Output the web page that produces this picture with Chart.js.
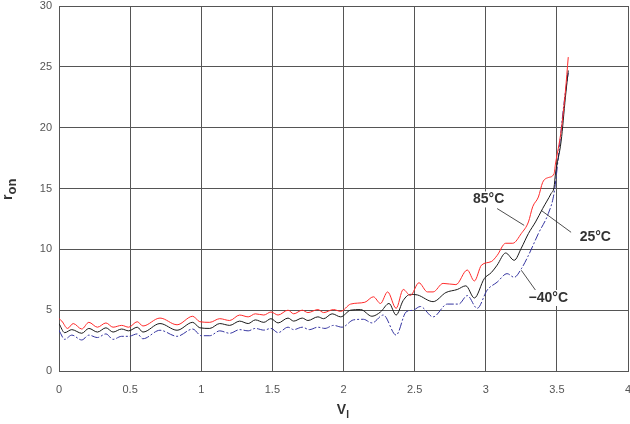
<!DOCTYPE html>
<html>
<head>
<meta charset="utf-8">
<title>r_on vs V_I</title>
<script src="https://cdn.jsdelivr.net/npm/chart.js@4/dist/chart.umd.min.js"></script>
<style>
    html, body { margin: 0; padding: 0; background: #fff; }
    #wrap { width: 630px; height: 424px; position: relative; }
</style>
</head>
<body>
<div id="wrap"><canvas id="ronChart"></canvas></div>
<script>
// Axis ticks
const xTicks = [0, 0.5, 1, 1.5, 2, 2.5, 3, 3.5, 4];
const yTicks = [0, 5, 10, 15, 20, 25, 30];

// 85°C curve (red)
const redX = [0.00, 0.02, 0.06, 0.10, 0.16, 0.21, 0.27, 0.33, 0.38, 0.44, 0.49, 0.55, 0.59, 0.71, 0.83, 0.94, 0.99, 1.06,
    1.13, 1.20, 1.27, 1.33, 1.38, 1.44, 1.49, 1.54, 1.61, 1.65, 1.71, 1.75, 1.82, 1.86, 1.93, 1.98,
    2.05, 2.15, 2.21, 2.26, 2.31, 2.37, 2.42, 2.47, 2.53, 2.59, 2.63, 2.70, 2.79, 2.87, 2.92, 2.97,
    3.04, 3.08, 3.14, 3.19, 3.25, 3.30, 3.33, 3.37, 3.40, 3.44, 3.48, 3.49, 3.53, 3.56, 3.58];
const redY = [4.3, 4.1, 3.5, 3.9, 3.45, 4.0, 3.6, 3.95, 3.6, 3.75, 3.6, 4.05, 3.7, 4.35, 3.8, 4.5, 4.05, 4.0,
    4.3, 4.15, 4.6, 4.45, 4.7, 4.6, 4.85, 4.6, 5.0, 4.7, 5.0, 4.8, 5.05, 4.8, 5.05, 4.9,
    5.5, 5.65, 6.1, 5.55, 6.5, 5.15, 6.7, 6.2, 7.25, 6.5, 6.5, 7.2, 7.1, 8.3, 7.4, 8.7,
    9.0, 9.5, 10.5, 10.5, 11.3, 12.25, 13.5, 14.3, 15.5, 15.9, 16.2, 17.0, 19.75, 23.0, 25.8];

// 25°C curve (black)
const blackX = [0.00, 0.04, 0.09, 0.16, 0.21, 0.27, 0.33, 0.38, 0.44, 0.49, 0.55, 0.59, 0.71, 0.83, 0.94, 0.99, 1.06,
    1.13, 1.20, 1.27, 1.33, 1.38, 1.44, 1.49, 1.54, 1.61, 1.65, 1.71, 1.75, 1.82, 1.86, 1.92, 1.98,
    2.05, 2.12, 2.20, 2.26, 2.32, 2.37, 2.42, 2.47, 2.52, 2.63, 2.72, 2.80, 2.86, 2.92, 2.99,
    3.04, 3.08, 3.14, 3.20, 3.25, 3.30, 3.35, 3.40, 3.46, 3.48, 3.49, 3.53, 3.56, 3.58];
const blackY = [3.9, 3.15, 3.4, 3.1, 3.5, 3.2, 3.55, 3.2, 3.45, 3.3, 3.6, 3.2, 3.9, 3.35, 4.0, 3.55, 3.5,
    3.9, 3.75, 4.1, 3.9, 4.2, 4.0, 4.3, 3.95, 4.35, 4.1, 4.35, 4.15, 4.45, 4.3, 4.7, 4.45,
    5.0, 5.05, 4.5, 4.85, 5.55, 4.6, 5.8, 6.3, 6.25, 5.7, 6.45, 6.7, 7.0, 6.0, 7.6,
    8.1, 8.7, 9.7, 9.1, 10.1, 11.3, 12.25, 13.35, 14.6, 15.1, 16.2, 18.9, 22.5, 24.7];

// -40°C curve (blue)
const blueX = [0.00, 0.04, 0.09, 0.16, 0.21, 0.27, 0.33, 0.38, 0.44, 0.49, 0.55, 0.59, 0.71, 0.83, 0.94, 1.00, 1.06,
    1.13, 1.20, 1.27, 1.33, 1.38, 1.44, 1.49, 1.54, 1.61, 1.65, 1.71, 1.76, 1.82, 1.87, 1.93, 1.99,
    2.07, 2.14, 2.20, 2.28, 2.37, 2.44, 2.49, 2.54, 2.63, 2.73, 2.81, 2.87, 2.94, 3.01,
    3.08, 3.15, 3.20, 3.25, 3.30, 3.37, 3.44, 3.48, 3.51, 3.55, 3.58];
const blueY = [3.35, 2.6, 2.95, 2.55, 2.95, 2.75, 3.05, 2.6, 2.85, 2.85, 3.05, 2.65, 3.35, 2.85, 3.45, 2.9, 2.9,
    3.3, 3.1, 3.4, 3.3, 3.5, 3.36, 3.5, 3.15, 3.6, 3.4, 3.6, 3.4, 3.6, 3.5, 3.75, 3.6,
    4.2, 4.25, 3.95, 4.6, 2.95, 4.85, 5.0, 5.3, 4.45, 5.5, 5.5, 6.2, 5.15, 6.65,
    7.3, 8.0, 7.7, 8.4, 9.5, 11.3, 12.95, 14.6, 17.55, 22.0, 24.5];

// Curve labels: text, text position, leader line start/end (data units)
const curveLabels = [
    { text: '85°C', x: 3.02, y: 14.1, from: [3.08, 13.35], to: [3.27, 11.97] },
    { text: '25°C', x: 3.77, y: 11.0, from: [3.60, 11.4], to: [3.39, 13.2] },
    { text: '\u221240°C', x: 3.44, y: 6.0, from: [3.35, 6.64], to: [3.25, 8.28] }
];

const FONT = "'Liberation Sans', Arial, Helvetica, sans-serif";
const GRID = '#555555';

function toPoints(xs, ys) {
    return xs.map((x, i) => ({ x: x, y: ys[i] }));
}

// draws leader lines, curve labels and the two axis titles (with subscripts)
const annotationPlugin = {
    id: 'curveAnnotations',
    afterDatasetsDraw(chart) {
        const ctx = chart.ctx;
        const xs = chart.scales.x;
        const ys = chart.scales.y;
        ctx.save();

        // leader lines
        ctx.strokeStyle = '#222';
        ctx.lineWidth = 0.8;
        curveLabels.forEach(l => {
            ctx.beginPath();
            ctx.moveTo(xs.getPixelForValue(l.from[0]), ys.getPixelForValue(l.from[1]));
            ctx.lineTo(xs.getPixelForValue(l.to[0]), ys.getPixelForValue(l.to[1]));
            ctx.stroke();
        });

        // label text on white boxes
        ctx.font = 'bold 14px ' + FONT;
        ctx.textAlign = 'center';
        ctx.textBaseline = 'middle';
        curveLabels.forEach(l => {
            const px = xs.getPixelForValue(l.x);
            const py = ys.getPixelForValue(l.y);
            const w = ctx.measureText(l.text).width;
            ctx.fillStyle = '#fff';
            ctx.fillRect(px - w / 2 - 2, py - 8, w + 4, 16);
            ctx.fillStyle = '#333';
            ctx.fillText(l.text, px, py);
        });

        // x axis title: V with subscript I
        const cx = (chart.chartArea.left + chart.chartArea.right) / 2;
        ctx.fillStyle = '#333';
        ctx.textAlign = 'left';
        ctx.textBaseline = 'alphabetic';
        ctx.font = 'bold 14px ' + FONT;
        const vw = ctx.measureText('V').width;
        ctx.fillText('V', cx - vw / 2 - 2, 414);
        ctx.font = 'bold 10px ' + FONT;
        ctx.fillText('I', cx + vw / 2 - 2, 418);

        // y axis title: r with subscript on, rotated
        ctx.translate(12, 200);
        ctx.rotate(-Math.PI / 2);
        ctx.font = 'bold 14px ' + FONT;
        ctx.fillText('r', 0, 0);
        const rw = ctx.measureText('r').width;
        ctx.font = 'bold 13px ' + FONT;
        ctx.fillText('on', rw, 4);

        ctx.restore();
    }
};

function makeDataset(label, xs, ys, color, dash) {
    return {
        label: label,
        data: toPoints(xs, ys),
        borderColor: color,
        borderWidth: 1,
        borderDash: dash || [],
        pointRadius: 0,
        fill: false,
        cubicInterpolationMode: 'monotone'
    };
}

function createChart() {
    const ctx = document.getElementById('ronChart');
    new Chart(ctx, {
        type: 'line',
        data: {
            datasets: [
                makeDataset('85°C', redX, redY, '#ff2a2a'),
                makeDataset('25°C', blackX, blackY, '#1a1a1a'),
                makeDataset('-40°C', blueX, blueY, '#3434a0', [8, 2, 2, 2])
            ]
        },
        options: {
            responsive: true,
            maintainAspectRatio: false,
            animation: false,
            events: [],
            layout: { padding: { left: 0, right: 2, top: 6, bottom: 0 } },
            plugins: {
                legend: { display: false },
                tooltip: { enabled: false }
            },
            scales: {
                x: {
                    type: 'linear',
                    min: xTicks[0],
                    max: xTicks[xTicks.length - 1],
                    afterBuildTicks: scale => { scale.ticks = xTicks.map(v => ({ value: v })); },
                    afterFit: scale => {
                        scale.height = 53;
                        scale.paddingLeft = 0;
                        scale.paddingRight = 0;
                    },
                    grid: { color: GRID, lineWidth: 1, drawTicks: false },
                    border: { color: GRID, width: 1 },
                    ticks: {
                        color: '#555',
                        font: { family: FONT, size: 11 },
                        padding: 12,
                        maxRotation: 0,
                        callback: v => String(v)
                    }
                },
                y: {
                    min: yTicks[0],
                    max: yTicks[yTicks.length - 1],
                    afterBuildTicks: scale => { scale.ticks = yTicks.map(v => ({ value: v })); },
                    afterFit: scale => {
                        scale.width = 59;
                        scale.paddingTop = 0;
                        scale.paddingBottom = 0;
                    },
                    grid: { color: GRID, lineWidth: 1, drawTicks: false },
                    border: { color: GRID, width: 1 },
                    ticks: {
                        color: '#555',
                        font: { family: FONT, size: 11 },
                        padding: 7,
                        callback: v => String(v)
                    }
                }
            }
        },
        plugins: [annotationPlugin]
    });
}

createChart();
</script>
</body>
</html>
